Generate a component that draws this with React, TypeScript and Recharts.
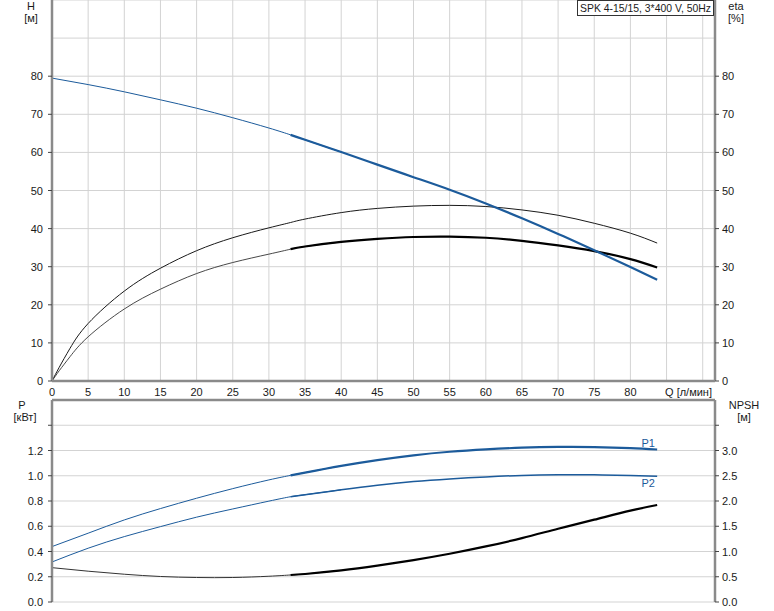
import React from 'react';
import { ComposedChart, LineChart, Line, XAxis, YAxis, CartesianGrid, ReferenceLine } from 'recharts';

// Flow Q [л/мин]
const Q = [0, 1, 2.5, 5, 10, 15, 20, 25, 30, 33, 35, 40, 45, 50, 55, 60, 65, 70, 75, 80, 83.7];
// Head H [м]
const H = [79.5, null, null, 77.8, 75.9, 73.8, 71.6, 69.1, 66.4, 64.6, 63.3, 60.1, 56.8, 53.5, 50.2, 46.6, 42.7, 38.6, 34.3, 29.9, 26.6];
// Efficiencies [%]
const ETA1 = [0, 3.6, 8.6, 15.1, 23.6, 29.6, 34.2, 37.6, 40.2, 41.6, 42.5, 44.2, 45.3, 45.9, 46.1, 45.8, 44.9, 43.5, 41.4, 38.8, 36.2];
const ETA2 = [0, 2.7, 6.4, 11.6, 18.9, 24.1, 28.2, 31.1, 33.3, 34.6, 35.3, 36.5, 37.3, 37.8, 37.9, 37.6, 36.8, 35.6, 34.1, 32.0, 29.8];
// Power [кВт]
const P1 = [0.439, null, null, 0.545, 0.65, 0.74, 0.822, 0.898, 0.967, 1.003, 1.025, 1.078, 1.124, 1.162, 1.19, 1.209, 1.222, 1.228, 1.227, 1.219, 1.208];
const P2 = [0.317, null, null, 0.426, 0.518, 0.597, 0.672, 0.737, 0.799, 0.834, 0.85, 0.889, 0.925, 0.954, 0.975, 0.991, 1.002, 1.007, 1.007, 1.002, 0.997];
// NPSH [м]
const NPSH = [0.68, null, null, 0.61, 0.55, 0.505, 0.485, 0.485, 0.51, 0.535, 0.555, 0.625, 0.72, 0.83, 0.955, 1.1, 1.265, 1.45, 1.63, 1.81, 1.92];

const THIN_END = 40;
const THICK_START = 33;

const X_TICKS = [0, 5, 10, 15, 20, 25, 30, 35, 40, 45, 50, 55, 60, 65, 70, 75, 80, 85, 90];
const H_TICKS = [0, 10, 20, 30, 40, 50, 60, 70, 80, 90, 100];
const P_TICKS = [0, 0.2, 0.4, 0.6, 0.8, 1.0, 1.2, 1.4, 1.6];
const NPSH_TICKS = [0, 0.5, 1.0, 1.5, 2.0, 2.5, 3.0, 3.5, 4.0];

const TITLE = 'SPK 4-15/15, 3*400 V, 50Hz';

const val = (arr: (number | null)[], i: number) => (arr[i] === null ? undefined : arr[i]);
const thin = (arr: (number | null)[], q: number, i: number) => (q <= THIN_END ? val(arr, i) : undefined);
const thick = (arr: (number | null)[], q: number, i: number) => (q >= THICK_START ? val(arr, i) : undefined);
const rows = Q.map((q, i) => ({
  q,
  hThin: thin(H, q, i),
  hThick: thick(H, q, i),
  e1: val(ETA1, i),
  e2Thin: thin(ETA2, q, i),
  e2Thick: thick(ETA2, q, i),
  p1Thin: thin(P1, q, i),
  p1Thick: thick(P1, q, i),
  p2Thin: thin(P2, q, i),
  p2Thick: thick(P2, q, i),
  nThin: thin(NPSH, q, i),
  nThick: thick(NPSH, q, i),
}));

const FONT = 'Liberation Sans, Arial, sans-serif';
const BLUE = '#1c5b9b';
const AXIS = '#8a8a8a';
const GRID = '#d3d3d3';
const TXT = '#1a1a1a';
const last = rows.length - 1;

const leftTick = (labelMax: number, lineMax: number, digits: number) => (p: any) => {
  const v = p.payload.value;
  return (
    <g>
      {v <= lineMax + 1e-9 && <line x1={p.x - 4} x2={p.x} y1={p.y} y2={p.y} stroke="#444" strokeWidth={1} />}
      {v <= labelMax + 1e-9 && (
        <text x={p.x - 9} y={p.y + 4} textAnchor="end" fontSize={11} fontFamily={FONT} fill={TXT}>
          {digits > 0 ? v.toFixed(digits) : String(v)}
        </text>
      )}
    </g>
  );
};

const rightTick = (labelMax: number, lineMax: number, digits: number) => (p: any) => {
  const v = p.payload.value;
  return (
    <g>
      {v <= lineMax + 1e-9 && <line x1={p.x} x2={p.x + 4} y1={p.y} y2={p.y} stroke="#444" strokeWidth={1} />}
      {v <= labelMax + 1e-9 && (
        <text x={p.x + 7} y={p.y + 4} textAnchor="start" fontSize={11} fontFamily={FONT} fill={TXT}>
          {digits > 0 ? v.toFixed(digits) : String(v)}
        </text>
      )}
    </g>
  );
};

const xTick = (p: any) => {
  const v = p.payload.value;
  if (v > 80) return <g />;
  return (
    <text x={p.x} y={p.y + 15} textAnchor="middle" fontSize={11} fontFamily={FONT} fill={TXT}>
      {String(v)}
    </text>
  );
};

const curveLabel = (name: string, dx: number, dy: number) => (p: any) => {
  if (p.index !== last) return <g />;
  return (
    <text x={p.x + dx} y={p.y + dy} textAnchor="middle" fontSize={11} fontFamily={FONT} fill={BLUE}>
      {name}
    </text>
  );
};

const CURVE = 'natural' as const;

export default function App() {
  return (
    <div style={{ position: 'absolute', left: 0, top: 0, width: 774, height: 611, background: '#fff' }}>
      <div style={{ position: 'absolute', left: 0, top: 0 }}>
        <ComposedChart width={774} height={400} data={rows} margin={{ top: 0, right: 0, bottom: 0, left: 0 }}>
          <CartesianGrid stroke={GRID} strokeWidth={1} yAxisId="h" />
          <XAxis
            dataKey="q"
            type="number"
            domain={[0, 91.7]}
            ticks={X_TICKS}
            allowDataOverflow
            height={19}
            tickSize={0}
            tickMargin={0}
            tickLine={false}
            axisLine={{ stroke: AXIS, strokeWidth: 2.5 }}
            tick={xTick}
            interval={0}
          />
          <YAxis
            yAxisId="h"
            domain={[0, 100]}
            ticks={H_TICKS}
            width={52}
            tickSize={0}
            tickMargin={0}
            tickLine={false}
            axisLine={{ stroke: AXIS, strokeWidth: 2.5 }}
            tick={leftTick(80, 80, 0)}
            interval={0}
          />
          <YAxis
            yAxisId="eta"
            orientation="right"
            domain={[0, 100]}
            ticks={H_TICKS}
            width={59}
            tickSize={0}
            tickMargin={0}
            tickLine={false}
            axisLine={{ stroke: AXIS, strokeWidth: 2.5 }}
            tick={rightTick(80, 80, 0)}
            interval={0}
          />
          <Line yAxisId="eta" dataKey="e1" type={CURVE} stroke="#1a1a1a" strokeWidth={1} dot={false} connectNulls isAnimationActive={false} />
          <Line yAxisId="eta" dataKey="e2Thin" type={CURVE} stroke="#333" strokeWidth={0.9} dot={false} connectNulls isAnimationActive={false} />
          <Line yAxisId="eta" dataKey="e2Thick" type={CURVE} stroke="#000" strokeWidth={2.2} dot={false} connectNulls isAnimationActive={false} />
          <Line yAxisId="h" dataKey="hThin" type={CURVE} stroke={BLUE} strokeWidth={1} dot={false} connectNulls isAnimationActive={false} />
          <Line yAxisId="h" dataKey="hThick" type={CURVE} stroke={BLUE} strokeWidth={2.2} dot={false} connectNulls isAnimationActive={false} />
        </ComposedChart>
      </div>
      <div style={{ position: 'absolute', left: 0, top: 395 }}>
        <LineChart width={774} height={215} data={rows} margin={{ top: 5, right: 0, bottom: 8, left: 0 }}>
          <CartesianGrid stroke={GRID} strokeWidth={1} yAxisId="p" />
          <XAxis
            dataKey="q"
            type="number"
            domain={[0, 91.7]}
            ticks={X_TICKS}
            allowDataOverflow
            height={0}
            tickSize={0}
            tickMargin={0}
            tickLine={false}
            tick={false}
            axisLine={{ stroke: AXIS, strokeWidth: 2.5 }}
            interval={0}
          />
          <YAxis
            yAxisId="p"
            domain={[0, 1.6]}
            ticks={P_TICKS}
            width={52}
            tickSize={0}
            tickMargin={0}
            tickLine={false}
            axisLine={{ stroke: AXIS, strokeWidth: 2.5 }}
            tick={leftTick(1.2, 1.4, 1)}
            interval={0}
          />
          <YAxis
            yAxisId="npsh"
            orientation="right"
            domain={[0, 4]}
            ticks={NPSH_TICKS}
            width={59}
            tickSize={0}
            tickMargin={0}
            tickLine={false}
            axisLine={{ stroke: AXIS, strokeWidth: 2.5 }}
            tick={rightTick(3.0, 3.5, 1)}
            interval={0}
          />
          <ReferenceLine yAxisId="p" y={1.6} stroke={AXIS} strokeWidth={2.5} />
          <Line yAxisId="npsh" dataKey="nThin" type={CURVE} stroke="#333" strokeWidth={1} dot={false} connectNulls isAnimationActive={false} />
          <Line yAxisId="npsh" dataKey="nThick" type={CURVE} stroke="#000" strokeWidth={2.2} dot={false} connectNulls isAnimationActive={false} />
          <Line yAxisId="p" dataKey="p2Thin" type={CURVE} stroke={BLUE} strokeWidth={1} dot={false} connectNulls isAnimationActive={false} />
          <Line yAxisId="p" dataKey="p2Thick" type={CURVE} stroke={BLUE} strokeWidth={1.5} dot={false} connectNulls isAnimationActive={false} label={curveLabel('P2', -9, 11)} />
          <Line yAxisId="p" dataKey="p1Thin" type={CURVE} stroke={BLUE} strokeWidth={1} dot={false} connectNulls isAnimationActive={false} />
          <Line yAxisId="p" dataKey="p1Thick" type={CURVE} stroke={BLUE} strokeWidth={2.2} dot={false} connectNulls isAnimationActive={false} label={curveLabel('P1', -9, -2)} />
        </LineChart>
      </div>
      <svg width={774} height={611} style={{ position: 'absolute', left: 0, top: 0, pointerEvents: 'none' }}>
        <g fontFamily={FONT} fontSize={11} fill={TXT}>
          <text x={31} y={10} textAnchor="middle">H</text>
          <text x={31} y={22} textAnchor="middle">[м]</text>
          <text x={736} y={10} textAnchor="middle">eta</text>
          <text x={736} y={22} textAnchor="middle">[%]</text>
          <text x={22} y={409} textAnchor="middle">P</text>
          <text x={25} y={421} textAnchor="middle">[кВт]</text>
          <text x={744} y={409} textAnchor="middle">NPSH</text>
          <text x={744} y={421} textAnchor="middle">[м]</text>
          <text x={712} y={396} textAnchor="end">Q [л/мин]</text>
          <rect x={577.5} y={0.5} width={136} height={15} fill="#fff" stroke="#333" strokeWidth={1} />
          <text x={645.5} y={12} textAnchor="middle" textLength={131} lengthAdjust="spacingAndGlyphs">{TITLE}</text>
        </g>
      </svg>
    </div>
  );
}
